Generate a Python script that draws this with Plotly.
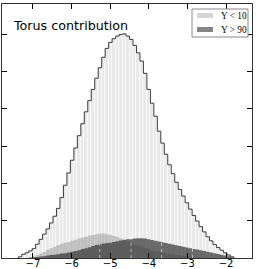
import numpy as np
import plotly.graph_objects as go

# ---- data ----
bin_start = -7.38
bin_width = 0.09
total = [0.03, 0.10, 0.14, 0.19, 0.25, 0.37, 0.50, 0.64, 0.78, 0.94,
         1.12, 1.33, 1.62, 1.95, 2.28, 2.62, 2.95, 3.28, 3.60, 3.92,
         4.22, 4.52, 4.82, 5.10, 5.38, 5.62, 5.78, 5.88, 5.95, 5.99,
         6.01, 5.95, 5.86, 5.70, 5.50, 5.28, 4.95, 4.52, 4.15, 3.80,
         3.40, 3.08, 2.78, 2.50, 2.26, 2.03, 1.84, 1.66, 1.48, 1.31,
         1.14, 0.99, 0.84, 0.70, 0.57, 0.46, 0.36, 0.28, 0.21, 0.14,
         0.08, 0.03]
y_low = [0.00, 0.00, 0.01, 0.02, 0.04, 0.08, 0.12, 0.16, 0.22, 0.26,
         0.30, 0.34, 0.38, 0.41, 0.43, 0.46, 0.49, 0.52, 0.55, 0.57,
         0.60, 0.62, 0.64, 0.66, 0.66, 0.64, 0.62, 0.59, 0.56, 0.52,
         0.48, 0.44, 0.40, 0.36, 0.33, 0.30, 0.27, 0.24, 0.21, 0.19,
         0.17, 0.15, 0.13, 0.11, 0.10, 0.08, 0.07, 0.06, 0.05, 0.04,
         0.03, 0.03, 0.02, 0.02, 0.01, 0.01, 0.01, 0.00, 0.00, 0.00,
         0.00, 0.00]
y_high = [0.00, 0.00, 0.00, 0.01, 0.02, 0.03, 0.04, 0.05, 0.07, 0.08,
          0.09, 0.10, 0.12, 0.13, 0.15, 0.17, 0.19, 0.21, 0.24, 0.26,
          0.29, 0.32, 0.35, 0.37, 0.39, 0.40, 0.41, 0.43, 0.45, 0.47,
          0.49, 0.50, 0.51, 0.52, 0.53, 0.53, 0.52, 0.50, 0.48, 0.46,
          0.44, 0.42, 0.40, 0.38, 0.36, 0.34, 0.32, 0.30, 0.28, 0.26,
          0.24, 0.23, 0.21, 0.19, 0.17, 0.15, 0.13, 0.11, 0.09, 0.07,
          0.05, 0.02]
dotted_x = [-5.27, -4.46, -3.67, -2.87]
x_ticks = [-7, -6, -5, -4, -3, -2]
y_ticks = [1, 2, 3, 4, 5, 6]
title_text = "Torus contribution"
legend_labels = ["Y < 10", "Y > 90"]

n = len(total)
edges = bin_start + bin_width * np.arange(n + 1)
centers = (edges[:-1] + edges[1:]) / 2


def step_xy(vals):
    xs = list(edges)
    ys = list(vals) + [vals[-1]]
    return [edges[0]] + xs, [0] + ys


fig = go.Figure()
fig.add_trace(go.Bar(x=centers, y=total, width=bin_width,
                     marker=dict(color="#e9e9e9", line=dict(color="white", width=0.6)),
                     showlegend=False))
sx, sy = step_xy(y_low)
fig.add_trace(go.Scatter(x=sx, y=sy, mode="lines", line=dict(width=0, shape="hv"),
                         fill="tozeroy", fillcolor="rgba(150,150,150,0.5)", showlegend=False))
sx, sy = step_xy(y_high)
fig.add_trace(go.Scatter(x=sx, y=sy, mode="lines", line=dict(width=0, shape="hv"),
                         fill="tozeroy", fillcolor="rgba(50,50,50,0.7)", showlegend=False))
# faint dotted lines inside the dark area
dx, dy = [], []
for xv in dotted_x:
    dx += [xv, xv, None]
    dy += [0, float(np.interp(xv, centers, y_high)), None]
fig.add_trace(go.Scatter(x=dx, y=dy, mode="lines",
                         line=dict(color="rgba(255,255,255,0.55)", width=1, dash="dot"),
                         showlegend=False))
sx, sy = step_xy(total)
fig.add_trace(go.Scatter(x=sx + [edges[-1]], y=sy + [0], mode="lines",
                         line=dict(color="#3a3a3a", width=1, shape="hv"), showlegend=False))

W, H = 258, 269
L, R, T, B = 2, 6, 4, 11
pw, ph = W - L - R, H - T - B


def px(x):
    return (x - L) / pw


def py(y):
    return (H - B - y) / ph


shapes = [
    dict(type="rect", xref="paper", yref="paper", x0=px(192), x1=px(248), y0=py(37), y1=py(9),
         line=dict(color="#8a8a8a", width=1), fillcolor="white"),
    dict(type="rect", xref="paper", yref="paper", x0=px(197), x1=px(213), y0=py(18), y1=py(13),
         line=dict(width=0), fillcolor="#d6d6d6"),
    dict(type="rect", xref="paper", yref="paper", x0=px(197), x1=px(213), y0=py(32), y1=py(27),
         line=dict(width=0), fillcolor="#858585"),
]
annotations = [
    dict(text=title_text, xref="paper", yref="paper", x=px(11), y=py(25.5), xanchor="left",
         yanchor="middle", showarrow=False, font=dict(family="DejaVu Sans", size=12.7, color="black")),
    dict(text=legend_labels[0], xref="paper", yref="paper", x=px(219), y=py(15.5), xanchor="left",
         yanchor="middle", showarrow=False, font=dict(family="Liberation Serif", size=9.3, color="black")),
    dict(text=legend_labels[1], xref="paper", yref="paper", x=px(219), y=py(29.5), xanchor="left",
         yanchor="middle", showarrow=False, font=dict(family="Liberation Serif", size=9.3, color="black")),
]

fig.update_layout(
    width=W, height=H, margin=dict(l=L, r=R, t=T, b=B, pad=0, autoexpand=False),
    paper_bgcolor="white", plot_bgcolor="white", bargap=0,
    shapes=shapes, annotations=annotations, showlegend=False,
    xaxis=dict(range=[-7.80, -1.33], tickvals=x_ticks, ticks="inside", ticklen=5,
               tickcolor="black", showline=True, linecolor="#333", linewidth=1,
               mirror="ticks", showgrid=False, zeroline=False, automargin=False,
               ticklabelstandoff=-4,
               tickfont=dict(family="DejaVu Sans", size=10, color="black")),
    yaxis=dict(range=[0, 6.81], tickvals=y_ticks, ticks="inside", ticklen=5,
               tickcolor="black", showline=True, linecolor="#333", linewidth=1,
               mirror="ticks", showgrid=False, zeroline=False, showticklabels=False,
               automargin=False),
)
fig.write_html("out.html", config={"displayModeBar": False},
               post_script="document.body.style.margin='0';document.body.style.overflow='hidden';")
